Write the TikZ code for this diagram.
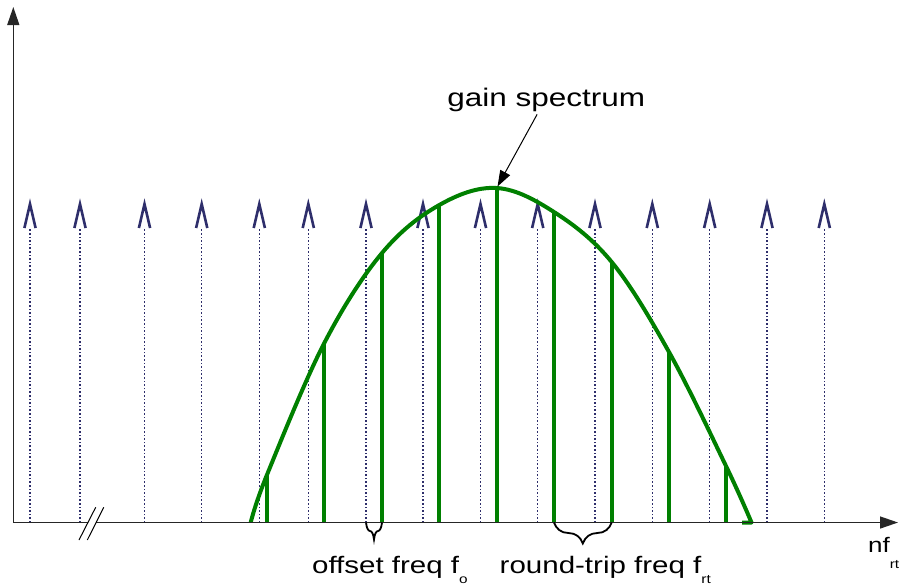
\documentclass[tikz,border=0pt]{standalone}
\usepackage{fontspec}
\setmainfont{Liberation Sans}[FakeStretch=1.24]
\usepackage{tikz}
\usetikzlibrary{arrows.meta,decorations.pathreplacing}
\definecolor{combgreen}{HTML}{008000}
\definecolor{modenavy}{HTML}{2E2E6B}
\newcommand{\lowsub}[2][5.3pt]{\raisebox{-#1}{\fontsize{6.2pt}{7pt}\selectfont #2}}

\begin{document}
\begin{tikzpicture}[
  x=0.5pt, y=-0.5pt,
  axis/.style={line width=0.7pt, draw=black!85},
  axisarrow/.style={axis, -{Triangle[length=9pt, width=6pt]}},
  mode/.style={line width=0.55pt, draw=modenavy, dash pattern=on 0.8pt off 1pt},
  caret/.style={line width=1.3pt, draw=modenavy, line join=miter},
  comb/.style={line width=2pt, draw=combgreen},
  gaincurve/.style={line width=2pt, draw=combgreen, line join=round},
  pointer/.style={line width=0.5pt, -{Triangle[length=8pt, width=5.5pt]}},
  bracket/.style={line width=0.9pt, decorate},
  label/.style={inner sep=0pt, anchor=base west, font=\fontsize{11.9pt}{14pt}\selectfont}
]
\useasboundingbox (0,0) rectangle (899,586);

\coordinate (origin) at (13.3,522.5);
\coordinate (ytop) at (13.3,7);
\coordinate (xend) at (898,522.5);
\coordinate (brkL) at (88.2,522.5);
\coordinate (brkR) at (96.3,522.5);

% cavity modes
\foreach \x [count=\i] in {30,80,144.5,201.7,259.3,308.3,366,423,480.5,537.7,595,652.3,709.7,767,824.3} {
  \coordinate (d\i) at (\x,522.5);
  \draw[mode] (d\i) -- (\x,228);
  \draw[caret] (\x-5.6,228) -- (\x,204) -- (\x+5.6,228);
}

% lasing comb
\foreach \x/\y [count=\i] in {267.3/474,324.3/343,382/253,439.3/205,496.7/188,554/212,611.7/262,669/352,726/466} {
  \coordinate (g\i) at (\x,522.5);
  \draw[comb] (g\i) -- (\x,\y);
}

\draw[gaincurve] plot[smooth, tension=0.6] coordinates {(250.7,522.5) (267.3,474) (324.3,343) (382,253) (439.3,205) (496.7,188) (554,212) (611.7,262) (669,352) (726,466) (751.5,522.5)} -- (742,522.5);
\coordinate (peak) at (497.5,186.5);

\draw[axis, -{Triangle[length=9pt, width=6pt]}] (origin) -- (ytop);
\draw[axis] (origin) -- (brkL);
\draw[axisarrow] (brkR) -- (xend);
\draw[line width=0.5pt] (79,540) -- (95.7,507.3);
\draw[line width=0.5pt] (87.3,540) -- (103.7,507.3);

\draw[bracket, decoration={brace, mirror, amplitude=8.5pt}] (d7) -- (g3);
\draw[bracket, decoration={brace, mirror, amplitude=10.5pt}] (g6) -- (g7);

\node[label, font=\fontsize{12.7pt}{15pt}\selectfont] (gain) at (447,106.7) {gain spectrum};
\draw[pointer] ([xshift=-4.6pt, yshift=-1pt]gain.south) -- (peak);

\node[label] (offset) at (311.7,573.3) {offset freq f\lowsub{o}};
\node[label] (roundtrip) at (499.3,573.3) {round-trip freq f\lowsub{rt}};
\node[label, font=\fontsize{10.5pt}{12pt}\selectfont] (xlabel) at (867.7,552.3) {nf\lowsub[8pt]{rt}};
\end{tikzpicture}
\end{document}
